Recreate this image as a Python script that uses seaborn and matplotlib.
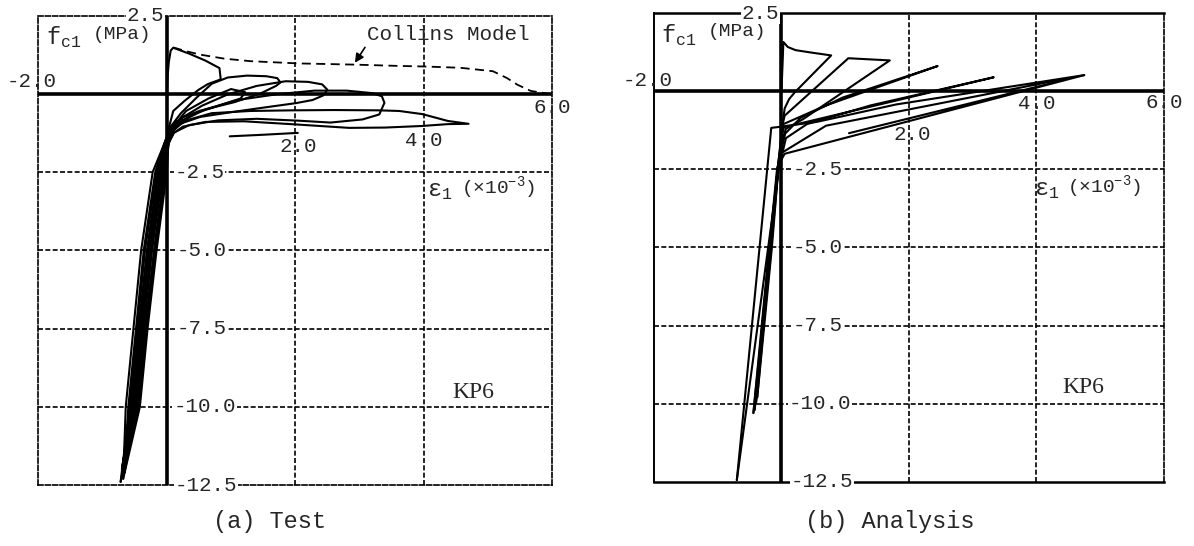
import matplotlib
matplotlib.use("Agg")
import matplotlib.pyplot as plt
import pandas as pd
import seaborn as sns

# ---------------- (a) Test: measured cyclic response (strain x1e-3, stress MPa) -------------
test_c1_x = [0.00, 0.01, 0.03, 0.06, 0.10, 0.35, 0.60, 0.82, 0.84, 0.64, 0.49, 0.28, 0.10, 0.03,
             -0.10, -0.27, -0.40, -0.52, -0.64]
test_c1_y = [0.00, 0.50, 1.00, 1.38, 1.47, 1.28, 1.06, 0.82, 0.46, 0.31, 0.12, -0.22, -0.55, -1.10,
             -2.50, -5.00, -7.50, -10.00, -11.80]

test_c2_x = [-0.64, -0.56, -0.44, -0.31, -0.14, -0.03, 0.06, 0.22, 0.45, 0.70, 0.95, 1.25, 1.55, 1.72,
             1.77, 1.70, 1.45, 1.05, 0.52, 0.25, 0.10, 0.03, -0.04, -0.20, -0.34, -0.46, -0.66]
test_c2_y = [-11.80, -10.00, -7.50, -5.00, -2.50, -1.55, -1.05, -0.62, -0.15, 0.32, 0.52, 0.58, 0.56, 0.50,
             0.36, 0.25, 0.00, -0.27, -0.54, -0.75, -0.98, -1.30, -2.50, -5.00, -7.50, -10.00, -12.10]

test_c3_x = [-0.66, -0.60, -0.48, -0.36, -0.18, -0.05, 0.05, 0.25, 0.55, 0.95, 1.40, 1.85, 2.20, 2.42,
             2.50, 2.44, 2.27, 2.01, 1.55, 1.03, 0.52, 0.22, 0.07, 0.02, 0.00, -0.16, -0.30, -0.42, -0.68]
test_c3_y = [-12.10, -10.00, -7.50, -5.00, -2.50, -1.65, -1.12, -0.75, -0.38, -0.02, 0.25, 0.40, 0.38, 0.30,
             0.13, -0.05, -0.20, -0.30, -0.43, -0.58, -0.74, -0.95, -1.25, -1.70, -2.50, -5.00, -7.50,
             -10.00, -12.30]

test_c4_x = [-0.68, -0.64, -0.52, -0.40, -0.22, -0.07, 0.04, 0.25, 0.60, 1.10, 1.70, 2.30, 2.80, 3.20,
             3.35, 3.39, 3.31, 3.05, 2.55, 2.05, 1.40, 0.80, 0.35, 0.10, 0.01, -0.08, -0.25, -0.38, -0.50,
             -0.72]
test_c4_y = [-12.30, -10.00, -7.50, -5.00, -2.50, -1.75, -1.20, -0.85, -0.50, -0.20, -0.02, 0.10, 0.10, 0.02,
             -0.08, -0.29, -0.66, -0.82, -0.92, -0.86, -0.80, -0.85, -1.00, -1.25, -1.65, -2.50, -5.00,
             -7.50, -10.00, -12.40]

test_c5_x = [-0.72, -0.58, -0.46, -0.34, -0.16, -0.04, 0.05, 0.30, 0.70, 1.30, 1.95, 2.60, 3.30, 3.62,
             3.98, 4.38, 4.70, 4.38, 3.97, 3.40, 2.84, 2.01, 1.20, 0.60, 0.25, 0.08, 0.00, -0.12, -0.29,
             -0.42, -0.54, -0.70]
test_c5_y = [-12.40, -10.00, -7.50, -5.00, -2.50, -1.80, -1.22, -0.85, -0.62, -0.55, -0.53, -0.52, -0.53,
             -0.55, -0.65, -0.87, -0.96, -0.97, -1.03, -1.08, -1.09, -0.98, -0.88, -0.90, -1.05, -1.30,
             -1.70, -2.50, -5.00, -7.50, -10.00, -12.00]

test_c6_x = [-0.70, -0.53, -0.40, -0.28, -0.10, 0.00, 0.08, 0.30, 0.65, 1.00, 1.22, 1.15, 0.85, 0.45,
             0.15, 0.04, -0.02, -0.18, -0.32, -0.44, -0.64]
test_c6_y = [-12.00, -10.00, -7.50, -5.00, -2.50, -1.60, -1.10, -0.55, -0.15, 0.15, 0.05, -0.15, -0.35,
             -0.62, -0.95, -1.35, -2.50, -5.00, -7.50, -10.00, -11.60]

test_c7_x = [-0.64, -0.48, -0.36, -0.23, -0.06, 0.02, 0.10]
test_c7_y = [-11.60, -10.00, -7.50, -5.00, -2.50, -1.60, -1.30]

test_end_x = [0.98, 1.50, 2.04]
test_end_y = [-1.36, -1.31, -1.25]

# Collins tension-stiffening model
collins_x = [0.10, 0.30, 0.52, 0.90, 1.31, 2.04, 2.94, 3.60, 4.03, 4.57, 5.08, 5.30, 5.46, 5.67, 5.95]
collins_y = [1.48, 1.36, 1.25, 1.12, 1.04, 0.97, 0.93, 0.89, 0.87, 0.83, 0.72, 0.50, 0.29, 0.09, 0.00]

# ---------------- (b) Analysis: computed cyclic response ----------------
an_c1_x = [0.00, 0.02, 0.03, 0.10, 0.22, 0.44, 0.78, 0.21, 0.12, 0.05, 0.02, -0.06, -0.17, -0.28, -0.38]
an_c1_y = [0.00, 1.00, 1.58, 1.42, 1.32, 1.25, 1.15, -0.03, -0.25, -0.55, -1.00, -2.50, -5.00, -7.50, -9.80]

an_c2_x = [-0.38, -0.27, -0.15, -0.05, 0.02, 0.05, 1.05, 1.70, 0.34, 0.07, 0.03, -0.05, -0.18, -0.30, -0.42]
an_c2_y = [-9.80, -7.50, -5.00, -2.50, -1.05, -0.78, 1.06, 0.99, -0.89, -1.20, -1.45, -2.50, -5.00, -7.50,
           -10.20]

an_c3_x = [-0.42, -0.29, -0.17, -0.06, 0.01, 0.03, 0.70, 2.45, 0.96, 0.30, 0.06, 0.03, -0.07, -0.19, -0.30,
           -0.40]
an_c3_y = [-10.20, -7.50, -5.00, -2.50, -1.30, -1.05, -0.45, 0.81, -0.20, -0.85, -1.35, -1.60, -2.50, -5.00,
           -7.50, -10.00]

an_c4_x = [-0.40, -0.28, -0.16, -0.05, 0.01, 0.04, 3.33, 1.40, 0.40, 0.07, 0.03, -0.06, -0.19, -0.31, -0.44]
an_c4_y = [-10.00, -7.50, -5.00, -2.50, -1.40, -1.15, 0.45, -0.45, -1.05, -1.50, -1.85, -2.50, -5.00, -7.50,
           -10.30]

an_c5_x = [-0.44, -0.30, -0.17, -0.06, 0.02, 0.70, 4.75, 1.80, 0.55, 0.10, 0.00, -0.16, -0.70]
an_c5_y = [-10.30, -7.50, -5.00, -2.50, -1.95, -1.10, 0.52, -0.42, -0.98, -1.10, -1.13, -1.17, -12.45]

an_c6_x = [-0.70, -0.03, 0.05, 4.75, 1.06]
an_c6_y = [-12.45, -2.30, -2.00, 0.52, -1.34]

# axis annotations
x_tick_labels = ["-2.0", "2.0", "4.0", "6.0"]
y_tick_labels = ["2.5", "-2.5", "-5.0", "-7.5", "-10.0", "-12.5"]
y_tick_values = [2.5, -2.5, -5.0, -7.5, -10.0, -12.5]
specimen = "KP6"
captions = ["(a) Test", "(b) Analysis"]


def cycles_frame(pairs):
    rows = []
    for k, (xs, ys) in enumerate(pairs):
        for xv, yv in zip(xs, ys):
            rows.append({"strain": xv, "stress": yv, "cycle": k})
    return pd.DataFrame(rows)


test_df = cycles_frame([(test_c1_x, test_c1_y), (test_c2_x, test_c2_y), (test_c3_x, test_c3_y),
                        (test_c4_x, test_c4_y), (test_c5_x, test_c5_y), (test_c6_x, test_c6_y),
                        (test_c7_x, test_c7_y), (test_end_x, test_end_y)])
an_df = cycles_frame([(an_c1_x, an_c1_y), (an_c2_x, an_c2_y), (an_c3_x, an_c3_y),
                      (an_c4_x, an_c4_y), (an_c5_x, an_c5_y), (an_c6_x, an_c6_y)])

sns.set_theme(style="white")
plt.rcParams["font.family"] = ["Liberation Mono", "DejaVu Sans"]
plt.rcParams["mathtext.default"] = "regular"

MONO = ["Liberation Mono", "DejaVu Sans"]
GRID_LS = (0, (3, 1.4))
TICK_FS = 15

fig = plt.figure(figsize=(11.94, 5.46), dpi=100)
fig.patch.set_facecolor("white")
ax_a = fig.add_axes([0.0322, 0.1117, 0.4301, 0.8599])
ax_b = fig.add_axes([0.5477, 0.1178, 0.4271, 0.8579])


def frame(ax, tick_pos, f_pos, eps_pos, kp_pos):
    ax.set_xlim(-2.0, 6.0)
    ax.set_ylim(-12.5, 2.5)
    ax.set_xticks([])
    ax.set_yticks([])
    ax.set_xlabel("")
    ax.set_ylabel("")
    ax.set_facecolor("white")
    for yv in [-2.5, -5.0, -7.5, -10.0]:
        ax.axhline(yv, color="black", lw=1.2, ls=GRID_LS, zorder=1)
    for xv in [2.0, 4.0]:
        ax.axvline(xv, color="black", lw=1.2, ls=GRID_LS, zorder=1)
    ax.axhline(0.0, color="black", lw=2.6, zorder=2)
    ax.axvline(0.0, color="black", lw=2.6, zorder=2)

    box = dict(facecolor="white", edgecolor="none", pad=0.6)
    # value labels on the axes
    ax.text(-0.04, 2.5, y_tick_labels[0], ha="right", va="center", fontsize=TICK_FS,
            family=MONO, bbox=box, clip_on=False, zorder=5)
    for lab, yv, xl in zip(y_tick_labels[1:], y_tick_values[1:], tick_pos["y"]):
        ax.text(xl, yv, lab, ha="left", va="center", fontsize=TICK_FS, family=MONO,
                bbox=box, clip_on=False, zorder=5)
    for lab, (xv, yv) in zip(x_tick_labels, tick_pos["x"]):
        ax.text(xv, yv, lab, ha="center", va="center", fontsize=TICK_FS, family=MONO,
                clip_on=False, zorder=5)

    ax.text(f_pos[0], f_pos[1], "f$_{c1}$", ha="left", va="baseline", fontsize=17, family=MONO)
    ax.text(f_pos[0] + 0.74, f_pos[1] + 0.32, "(MPa)", ha="left", va="center", fontsize=14,
            family=MONO)
    ax.text(eps_pos[0], eps_pos[1], "\u03b5$_1$", ha="left", va="center", fontsize=17, family=MONO)
    ax.text(eps_pos[0] + 0.52, eps_pos[1] + 0.10, "(\u00d710$^{-3}$)", ha="left", va="center",
            fontsize=14, family=MONO)
    ax.text(kp_pos[0], kp_pos[1], specimen, ha="center", va="center", fontsize=17,
            family=["Liberation Serif", "DejaVu Serif"])


# ---- panel (a)
sns.lineplot(data=test_df, x="strain", y="stress", units="cycle", estimator=None, sort=False,
             color="black", linewidth=1.5, ax=ax_a, legend=False, zorder=3)
sns.lineplot(x=collins_x, y=collins_y, sort=False, color="black", linewidth=1.3,
             ax=ax_a, legend=False, zorder=3)
ax_a.lines[-1].set_linestyle((0, (5, 3)))

frame(ax_a,
      {"y": [0.12, 0.15, 0.15, 0.10, 0.12],
       "x": [(-2.10, 0.40), (2.04, -1.70), (4.00, -1.50), (6.00, -0.45)]},
      (-1.89, 1.58), (4.06, -3.10), (4.77, -9.55))
for side in ["top", "bottom", "left", "right"]:
    ax_a.spines[side].set_linestyle(GRID_LS)
    ax_a.spines[side].set_linewidth(1.2)
    ax_a.spines[side].set_color("black")

ax_a.annotate("Collins Model", xy=(2.93, 0.99), xytext=(3.12, 1.89), ha="left", va="center",
              fontsize=15, family=MONO,
              arrowprops=dict(arrowstyle="-|>", color="black", lw=1.2, mutation_scale=13,
                              shrinkA=0, shrinkB=0, relpos=(0.0, 0.0)))

# ---- panel (b)
sns.lineplot(data=an_df, x="strain", y="stress", units="cycle", estimator=None, sort=False,
             color="black", linewidth=1.5, ax=ax_b, legend=False, zorder=3)
frame(ax_b,
      {"y": [0.18, 0.18, 0.18, 0.12, 0.15],
       "x": [(-2.10, 0.35), (2.05, -1.37), (4.00, -0.40), (6.00, -0.35)]},
      (-1.89, 1.59), (3.96, -3.15), (4.73, -9.47))
for side in ["top", "bottom", "left"]:
    ax_b.spines[side].set_linestyle("-")
    ax_b.spines[side].set_color("black")
ax_b.spines["top"].set_linewidth(1.8)
ax_b.spines["bottom"].set_linewidth(1.8)
ax_b.spines["left"].set_linewidth(1.4)
ax_b.spines["right"].set_linestyle(GRID_LS)
ax_b.spines["right"].set_linewidth(1.2)
ax_b.spines["right"].set_color("black")

fig.text(0.226, 0.045, captions[0], ha="center", va="center", fontsize=17, family=MONO)
fig.text(0.745, 0.045, captions[1], ha="center", va="center", fontsize=17, family=MONO)

fig.savefig("out.png", dpi=100, facecolor="white")
